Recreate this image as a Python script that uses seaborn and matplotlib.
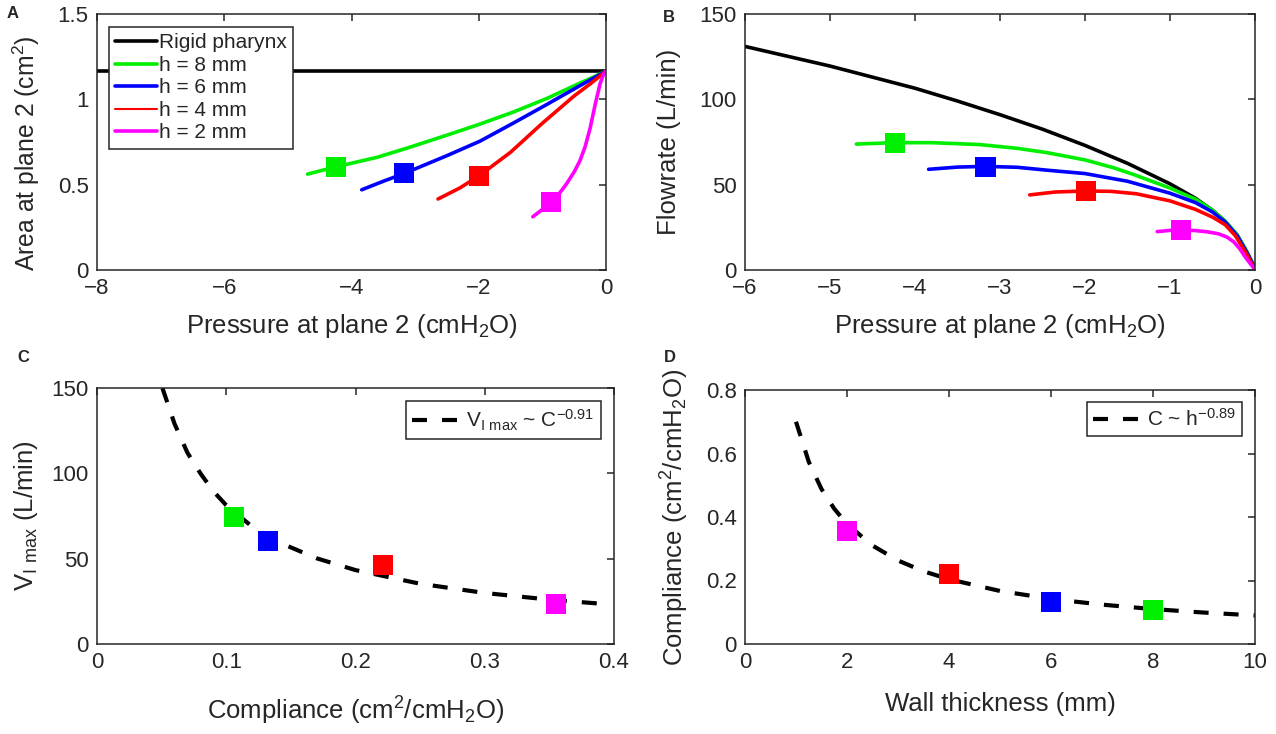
import numpy as np
import seaborn as sns
import matplotlib.pyplot as plt

# ---- panel A: area at plane 2 vs pressure ----
a_rigid_p = [-8, 0]
a_rigid_area = [1.165, 1.165]
a_h8_p = [-4.69, -4.24, -3.6, -3.12, -2.5, -1.98, -1.46, -0.93, -0.41, -0.2, 0]
a_h8_area = [0.562, 0.605, 0.66, 0.715, 0.79, 0.855, 0.925, 1.005, 1.095, 1.13, 1.165]
a_h6_p = [-3.84, -3.5, -3.17, -2.5, -1.98, -1.46, -0.93, -0.41, 0]
a_h6_area = [0.47, 0.52, 0.566, 0.67, 0.755, 0.86, 0.97, 1.08, 1.165]
a_h4_p = [-2.64, -2.3, -1.99, -1.5, -1.0, -0.5, -0.25, 0]
a_h4_area = [0.416, 0.48, 0.553, 0.69, 0.86, 1.02, 1.09, 1.165]
a_h2_p = [-1.15, -1.0, -0.865, -0.72, -0.62, -0.5, -0.41, -0.33, -0.25, -0.17, -0.094, -0.04, 0]
a_h2_area = [0.312, 0.355, 0.40, 0.455, 0.505, 0.575, 0.64, 0.72, 0.83, 0.97, 1.09, 1.145, 1.165]

# ---- panel B: flowrate vs pressure ----
b_rigid_p = [-6, -5, -4.5, -4, -3.5, -3, -2.5, -2, -1.5, -1, -0.7, -0.5, -0.35, -0.21, -0.1, 0]
b_rigid_q = [131, 119.5, 113, 106.5, 99, 91, 82.5, 73, 62.5, 50.5, 42, 35, 28.5, 20.5, 11, 1]
b_h8_p = [-4.69, -4.25, -3.8, -3.24, -2.8, -2.45, -2.0, -1.67, -1.43, -1.0, -0.7, -0.5, -0.35, -0.21, -0.1, 0]
b_h8_q = [73.8, 74.6, 74.6, 73.5, 71.3, 68.8, 64.5, 60, 56, 48, 41.5, 35, 28.5, 20.5, 11, 1]
b_h6_p = [-3.84, -3.5, -3.18, -2.8, -2.45, -2.0, -1.5, -1.0, -0.7, -0.5, -0.35, -0.21, -0.1, 0]
b_h6_q = [59, 60.3, 60.7, 60.2, 58.5, 56.5, 52, 45, 39.5, 34, 28, 20, 10.5, 1]
b_h4_p = [-2.65, -2.35, -2.0, -1.7, -1.4, -1.0, -0.7, -0.5, -0.35, -0.23, -0.1, -0.02, 0]
b_h4_q = [44, 45.7, 46.3, 46.1, 44.7, 40.5, 35.5, 31, 26.5, 20, 9.5, 2, 0.5]
b_h2_p = [-1.15, -1.0, -0.87, -0.7, -0.55, -0.43, -0.33, -0.25, -0.18, -0.12, -0.06, -0.02, 0]
b_h2_q = [22.5, 23.2, 23.5, 23.1, 22.3, 21.2, 19.3, 16.5, 12.5, 8, 4, 1.5, 0.5]

# ---- markers (flow limitation onset), order: h = 8, 6, 4, 2 mm ----
thickness = [8, 6, 4, 2]
onset_p = [-4.24, -3.17, -1.99, -0.87]
onset_area = [0.605, 0.566, 0.553, 0.40]
vmax = [74.6, 60.5, 46.3, 23.5]
compliance = [0.106, 0.132, 0.221, 0.355]
colors = ['#00EE00', '#0000FF', '#FF0000', '#FF00FF']

c_fit_c = [0.0506, 0.06, 0.07, 0.08, 0.09, 0.10, 0.12, 0.14, 0.17, 0.20, 0.25, 0.30, 0.35, 0.39]
c_fit_v = [150, 129, 112, 100, 89.5, 81.3, 68.8, 59.8, 50.2, 43.3, 35.3, 29.9, 26.0, 23.6]
d_fit_h = [1, 1.25, 1.5, 1.75, 2, 2.5, 3, 3.5, 4, 5, 6, 7, 8, 9, 10]
d_fit_c = [0.70, 0.574, 0.488, 0.426, 0.378, 0.310, 0.263, 0.229, 0.204, 0.167, 0.142, 0.124, 0.110, 0.099, 0.090]

# ---- ticks ----
a_xticks = [-8, -6, -4, -2, 0]
a_yticks = [0, 0.5, 1, 1.5]
a_ylabels = ['0', '0.5', '1', '1.5']
b_xticks = [-6, -5, -4, -3, -2, -1, 0]
b_yticks = [0, 50, 100, 150]
c_xticks = [0, 0.1, 0.2, 0.3, 0.4]
c_xlabels = ['0', '0.1', '0.2', '0.3', '0.4']
c_yticks = [0, 50, 100, 150]
d_xticks = [0, 2, 4, 6, 8, 10]
d_yticks = [0, 0.2, 0.4, 0.6, 0.8]
d_ylabels = ['0', '0.2', '0.4', '0.6', '0.8']

sns.set_style('white')
plt.rcParams['font.family'] = ['Liberation Sans', 'DejaVu Sans']
plt.rcParams['mathtext.default'] = 'regular'
plt.rcParams['axes.edgecolor'] = '#262626'
plt.rcParams['axes.linewidth'] = 1.1
plt.rcParams['xtick.color'] = '#262626'
plt.rcParams['ytick.color'] = '#262626'

W, H = 1276, 734
fig = plt.figure(figsize=(W / 100, H / 100), dpi=100)


def box(l, t, r, b):
    return [l / W, 1 - b / H, (r - l) / W, (b - t) / H]


axA = fig.add_axes(box(97, 14, 606, 270))
axB = fig.add_axes(box(745, 14, 1255, 270))
axC = fig.add_axes(box(97, 388, 614, 644))
axD = fig.add_axes(box(745, 390, 1255, 644))

lw = 2.6
pal = dict(zip(thickness, colors))

# panel A
sns.lineplot(x=a_rigid_p, y=a_rigid_area, color='black', lw=lw, sort=False, estimator=None, label='Rigid pharynx', ax=axA)
sns.lineplot(x=a_h8_p, y=a_h8_area, color=colors[0], lw=lw, sort=False, estimator=None, label='h = 8 mm', ax=axA)
sns.lineplot(x=a_h6_p, y=a_h6_area, color=colors[1], lw=lw, sort=False, estimator=None, label='h = 6 mm', ax=axA)
sns.lineplot(x=a_h4_p, y=a_h4_area, color=colors[2], lw=lw, sort=False, estimator=None, label='h = 4 mm', ax=axA)
sns.lineplot(x=a_h2_p, y=a_h2_area, color=colors[3], lw=lw, sort=False, estimator=None, label='h = 2 mm', ax=axA)
sns.scatterplot(x=onset_p, y=onset_area, hue=thickness, palette=pal, marker='s',
                s=210, linewidth=0, legend=False, zorder=5, ax=axA)
leg = axA.legend(loc='upper left', bbox_to_anchor=(0.0236, 0.949), borderaxespad=0, fontsize=15,
                 frameon=True, fancybox=False, edgecolor='#262626', framealpha=1, borderpad=0.3,
                 labelspacing=0.17, handlelength=2.0, handletextpad=0.1)
leg.get_frame().set_linewidth(1.1)
leg.get_lines()[3].set_linewidth(1.5)

# panel B
sns.lineplot(x=b_rigid_p, y=b_rigid_q, color='black', lw=lw, sort=False, estimator=None, ax=axB)
sns.lineplot(x=b_h8_p, y=b_h8_q, color=colors[0], lw=lw, sort=False, estimator=None, ax=axB)
sns.lineplot(x=b_h6_p, y=b_h6_q, color=colors[1], lw=lw, sort=False, estimator=None, ax=axB)
sns.lineplot(x=b_h4_p, y=b_h4_q, color=colors[2], lw=lw, sort=False, estimator=None, ax=axB)
sns.lineplot(x=b_h2_p, y=b_h2_q, color=colors[3], lw=lw, sort=False, estimator=None, ax=axB)
sns.scatterplot(x=onset_p, y=vmax, hue=thickness, palette=pal, marker='s',
                s=210, linewidth=0, legend=False, zorder=5, ax=axB)

# panel C
axC.plot(c_fit_c, c_fit_v, color='black', lw=3, dashes=(3.6, 3.6), label=r'V$_{I\ max}$ ~ C$^{-0.91}$')
sns.scatterplot(x=compliance, y=vmax, hue=thickness, palette=pal, marker='s',
                s=210, linewidth=0, legend=False, zorder=5, ax=axC)
legC = axC.legend(loc='upper right', bbox_to_anchor=(0.975, 0.949), borderaxespad=0, fontsize=15,
                  frameon=True, fancybox=False, edgecolor='#262626', framealpha=1, borderpad=0.3,
                  handlelength=2.6, handletextpad=0.0)
legC.get_frame().set_linewidth(1.1)

# panel D
axD.plot(d_fit_h, d_fit_c, color='black', lw=3, dashes=(3.6, 3.6), label=r'C ~ h$^{-0.89}$')
sns.scatterplot(x=thickness, y=compliance, hue=thickness, palette=pal, marker='s',
                s=210, linewidth=0, legend=False, zorder=5, ax=axD)
legD = axD.legend(loc='upper right', bbox_to_anchor=(0.975, 0.953), borderaxespad=0, fontsize=15,
                  frameon=True, fancybox=False, edgecolor='#262626', framealpha=1, borderpad=0.3,
                  handlelength=2.6, handletextpad=0.0)
legD.get_frame().set_linewidth(1.1)

# axes cosmetics
axA.set(xlim=(-8, 0), ylim=(0, 1.5))
axA.set_xticks(a_xticks)
axA.set_yticks(a_yticks, a_ylabels)
axB.set(xlim=(-6, 0), ylim=(0, 150))
axB.set_xticks(b_xticks)
axB.set_yticks(b_yticks)
axC.set(xlim=(0, 0.4), ylim=(0, 150))
axC.set_xticks(c_xticks, c_xlabels)
axC.set_yticks(c_yticks)
axD.set(xlim=(0, 10), ylim=(0, 0.8))
axD.set_xticks(d_xticks)
axD.set_yticks(d_yticks, d_ylabels)

fs = 18.5
axA.set_xlabel('Pressure at plane 2 (cmH$_2$O)', fontsize=fs, color='#262626')
axA.set_ylabel('Area at plane 2 (cm$^2$)', fontsize=17.8, color='#262626')
axB.set_xlabel('Pressure at plane 2 (cmH$_2$O)', fontsize=fs, color='#262626')
axB.set_ylabel('Flowrate (L/min)', fontsize=fs, color='#262626')
axC.set_xlabel('Compliance (cm$^2$/cmH$_2$O)', fontsize=fs, color='#262626')
axC.set_ylabel(r'V$_{I\ max}$ (L/min)', fontsize=fs, color='#262626')
axD.set_xlabel('Wall thickness (mm)', fontsize=fs, color='#262626')
axD.set_ylabel('Compliance (cm$^2$/cmH$_2$O)', fontsize=fs, color='#262626')

axA.xaxis.set_label_coords(0.5, -0.165)
axB.xaxis.set_label_coords(0.5, -0.165)
axC.xaxis.set_label_coords(0.5, -0.2)
axD.xaxis.set_label_coords(0.5, -0.19)
axA.yaxis.set_label_coords(-0.108, 0.455)
axB.yaxis.set_label_coords(-0.125, 0.5)
axC.yaxis.set_label_coords(-0.110, 0.5)
axD.yaxis.set_label_coords(-0.106, 0.5)

for ax in (axA, axB, axC, axD):
    ax.tick_params(direction='in', length=5, width=1.1, labelsize=16, top=True, right=True, pad=6)
    for sp in ax.spines.values():
        sp.set_visible(True)

for txt, x, y in (('A', 13, 14), ('B', 669, 17), ('C', 23, 357), ('D', 670, 357)):
    fig.text(x / W, 1 - y / H, txt, fontsize=12, fontweight='bold', ha='center', va='center')

fig.savefig('out.png', dpi=100)
